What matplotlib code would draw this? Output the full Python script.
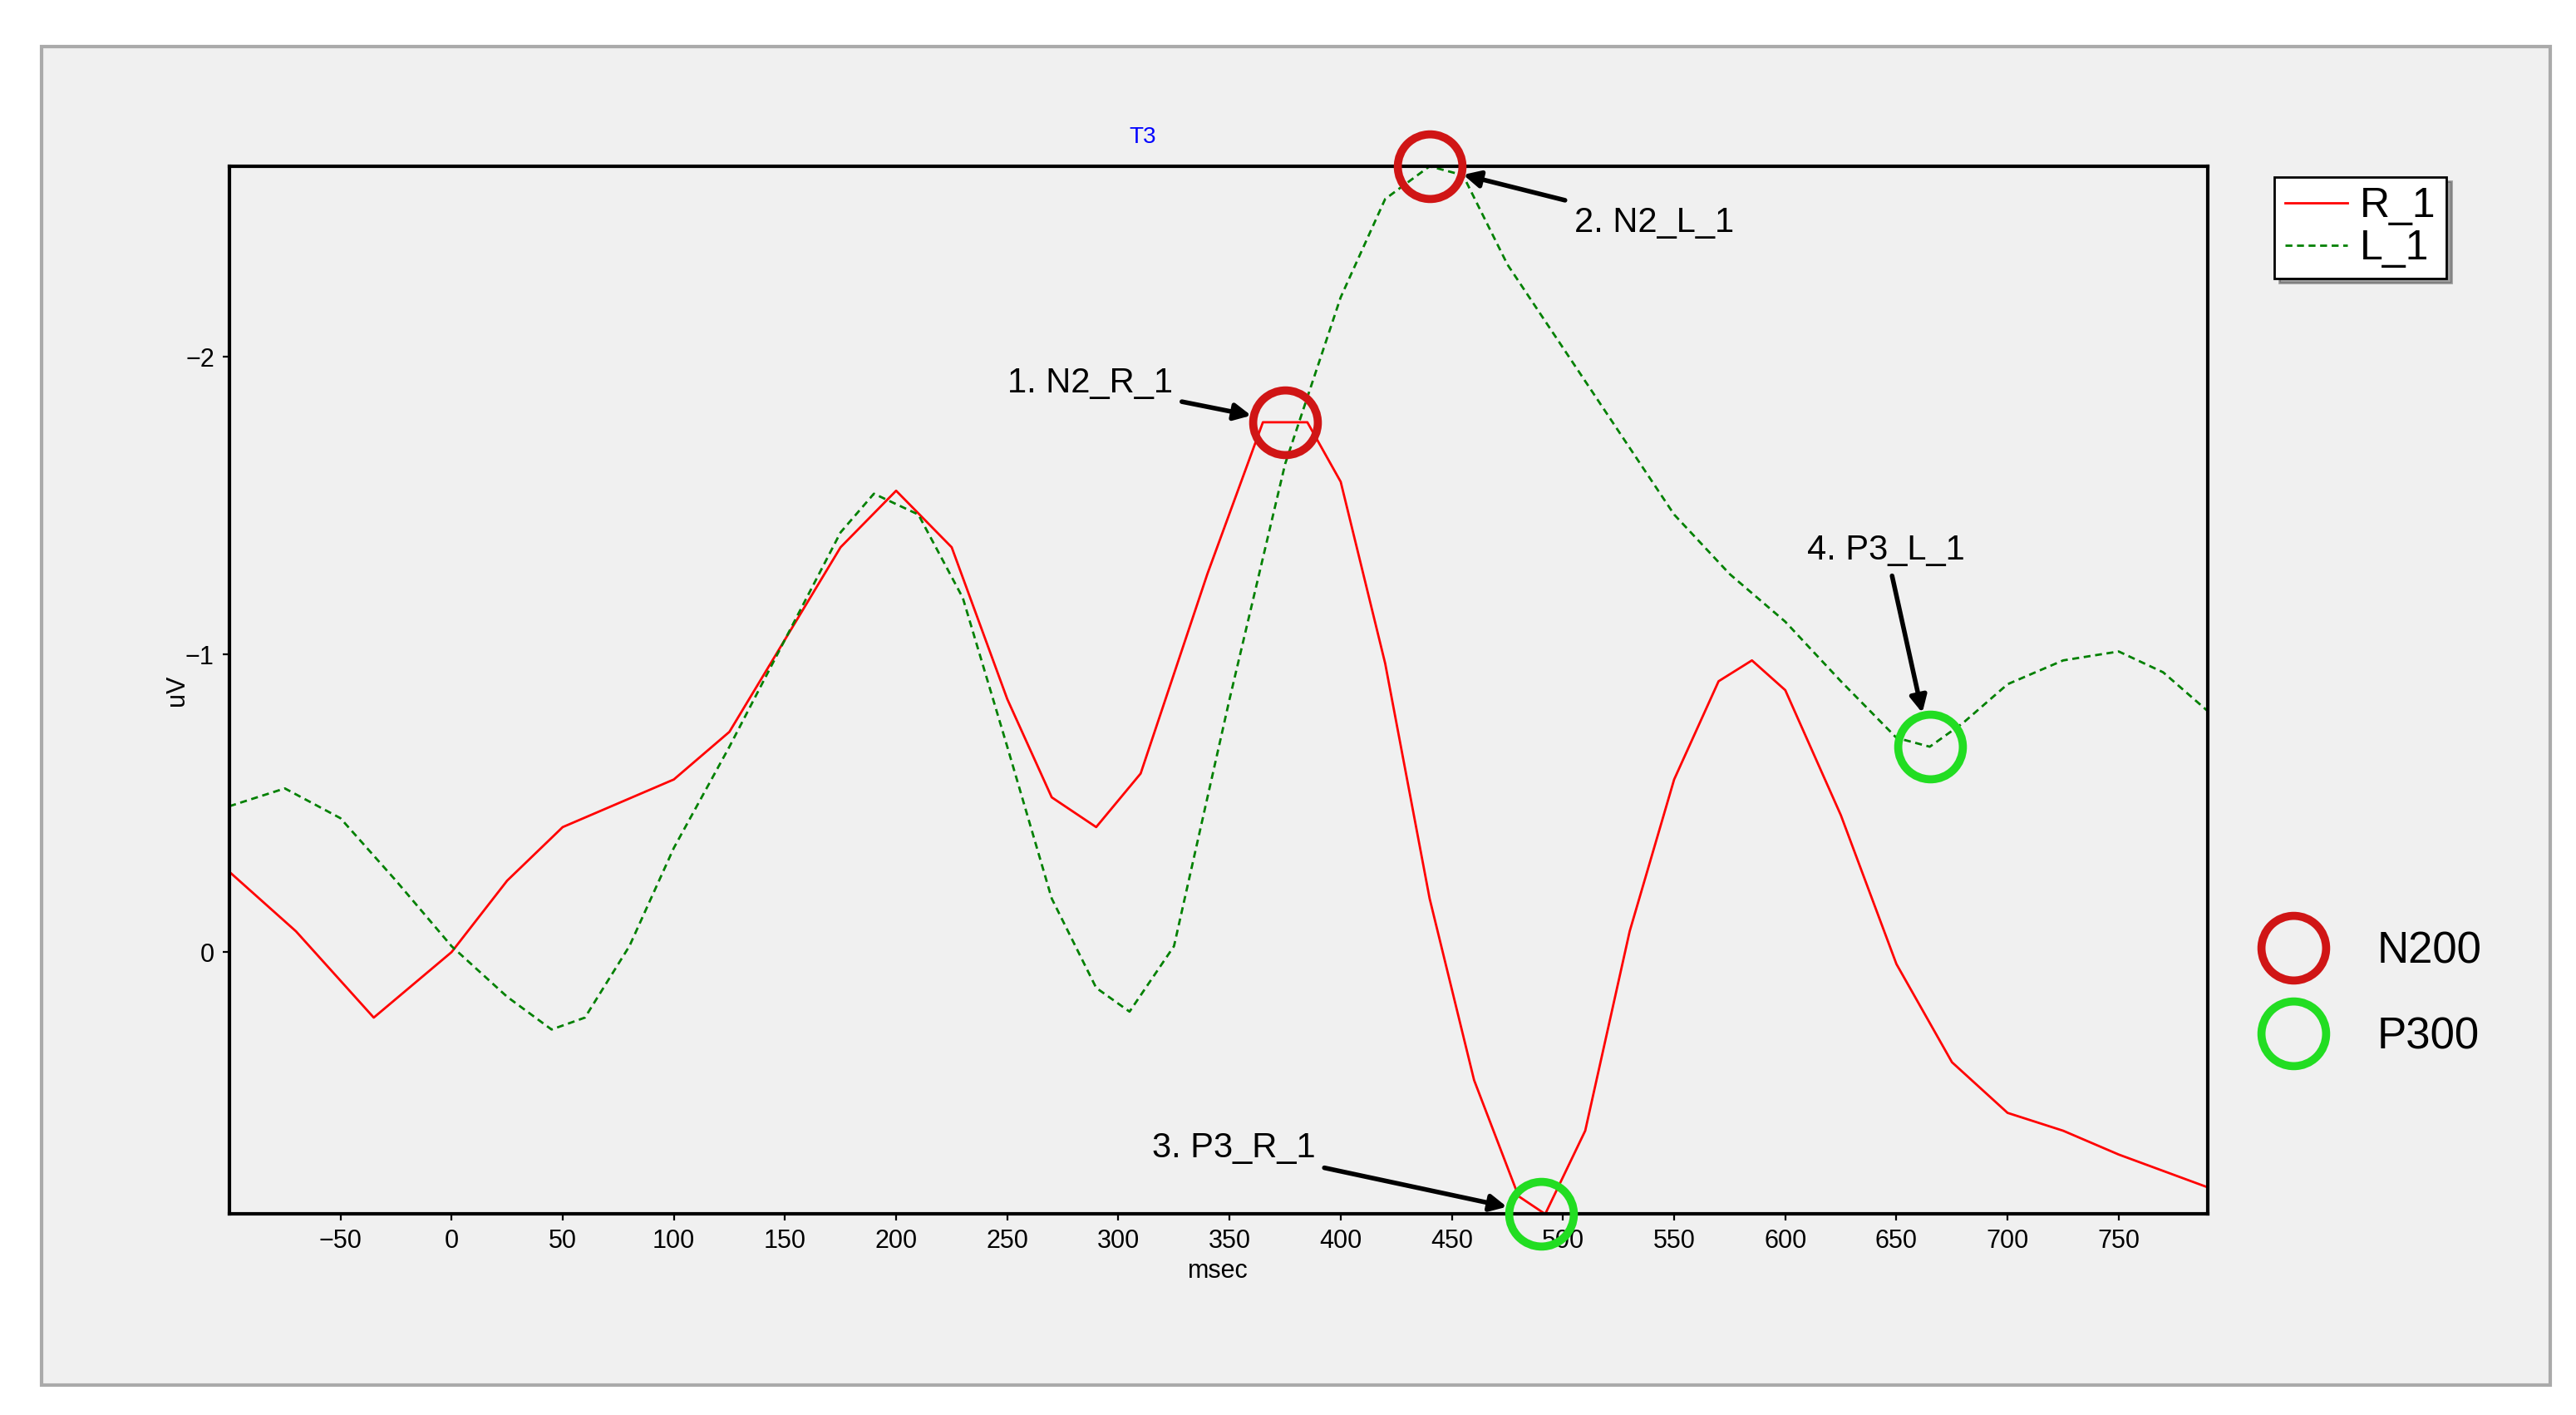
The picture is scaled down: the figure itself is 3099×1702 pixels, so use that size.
import matplotlib
matplotlib.use("Agg")
import matplotlib.pyplot as plt
from matplotlib.patches import Rectangle
from matplotlib.lines import Line2D

plt.rcParams['font.family'] = ['Liberation Sans', 'DejaVu Sans']

# values (msec, uV)
r_ms = [-100, -70, -35, 0, 25, 50, 75, 100, 125, 150, 175, 200, 225, 250, 270, 290,
        310, 340, 365, 385, 400, 420, 440, 460, 480, 492, 510, 530, 550, 570, 585,
        600, 625, 650, 675, 700, 725, 750, 790]
r_uv = [-0.27, -0.07, 0.22, 0.0, -0.24, -0.42, -0.50, -0.58, -0.74, -1.05, -1.36,
        -1.55, -1.36, -0.85, -0.52, -0.42, -0.60, -1.27, -1.78, -1.78, -1.58, -0.97,
        -0.18, 0.43, 0.82, 0.88, 0.60, -0.07, -0.58, -0.91, -0.98, -0.88, -0.46, 0.04,
        0.37, 0.54, 0.60, 0.68, 0.79]

l_ms = [-100, -75, -50, -25, 0, 25, 45, 60, 80, 100, 125, 150, 175, 190, 210, 230,
        250, 270, 290, 305, 325, 350, 375, 400, 420, 440, 455, 475, 500, 525, 550,
        575, 600, 625, 650, 665, 680, 700, 725, 750, 770, 790]
l_uv = [-0.49, -0.55, -0.45, -0.24, -0.02, 0.15, 0.26, 0.22, -0.02, -0.35, -0.69,
        -1.05, -1.41, -1.54, -1.47, -1.19, -0.69, -0.18, 0.12, 0.20, -0.02, -0.85,
        -1.64, -2.20, -2.53, -2.64, -2.61, -2.31, -2.03, -1.75, -1.47, -1.27, -1.11,
        -0.91, -0.72, -0.69, -0.77, -0.90, -0.98, -1.01, -0.94, -0.81]

# peaks: label, x, y, kind, text position
peak_labels = ["1. N2_R_1", "2. N2_L_1", "3. P3_R_1", "4. P3_L_1"]
peak_x = [375, 440, 490, 665]
peak_y = [-1.78, -2.64, 0.88, -0.69]
peak_kind = ["N200", "N200", "P300", "P300"]
text_xy = [(250, -1.88), (505, -2.42), (315, 0.69), (610, -1.32)]

bg = "#f0f0f0"
fig = plt.figure(figsize=(15.495, 8.51), dpi=200)
fig.patches.append(Rectangle((0.016, 0.021), 0.974, 0.946, transform=fig.transFigure,
                             facecolor=bg, edgecolor="#aaaaaa", lw=1.5, zorder=-1))
ax = fig.add_axes([0.089, 0.142, 0.768, 0.7405])
ax.set_facecolor(bg)

ax.plot(r_ms, r_uv, color="red", lw=1.0, label="R_1")
ax.plot(l_ms, l_uv, color="green", lw=1.0, ls=(0, (3, 2)), label="L_1")

styles = {"N200": dict(mec="#d01515", ls="none", marker="o", ms=28, mfc="none", mew=3.5),
          "P300": dict(mec="#22dd22", ls="none", marker="o", ms=28, mfc="none", mew=3.5)}
for lab, x, y, k, t in zip(peak_labels, peak_x, peak_y, peak_kind, text_xy):
    ax.plot([x], [y], clip_on=False, zorder=5, **styles[k])
    ax.annotate(lab, xy=(x, y), xytext=t, fontsize=15,
                arrowprops=dict(arrowstyle="-|>", color="black", lw=2, shrinkB=15),
                zorder=6)

ax.set_xlim(-100, 790)
ax.set_ylim(0.88, -2.64)
ax.set_xticks(range(-50, 751, 50))
ax.set_xticklabels(["\u221250"] + [str(v) for v in range(0, 751, 50)])
ax.set_yticks([-2, -1, 0])
ax.set_yticklabels(["\u22122", "\u22121", "0"])
ax.tick_params(labelsize=11, length=3)
for s in ax.spines.values():
    s.set_linewidth(1.5)
ax.set_xlabel("msec", fontsize=11, labelpad=2)
ax.set_ylabel("uV", fontsize=11, labelpad=-2)
ax.set_title("T3", fontsize=10, color="blue", loc="left", x=0.455, pad=10)

fig.legend(loc="upper left", bbox_to_anchor=(0.883, 0.875), fontsize=18,
           frameon=True, fancybox=False, shadow=True, edgecolor="black",
           facecolor="white", borderpad=0.25, handlelength=1.5, handletextpad=0.3,
           labelspacing=0.1, borderaxespad=0)

h = [Line2D([], [], **styles["N200"]), Line2D([], [], **styles["P300"])]
fig.legend(h, ["N200", "P300"], loc="upper left", bbox_to_anchor=(0.858, 0.37),
           fontsize=19, frameon=False, labelspacing=1.0, handletextpad=0.9)

fig.savefig("out.png", dpi=200, facecolor="white")
